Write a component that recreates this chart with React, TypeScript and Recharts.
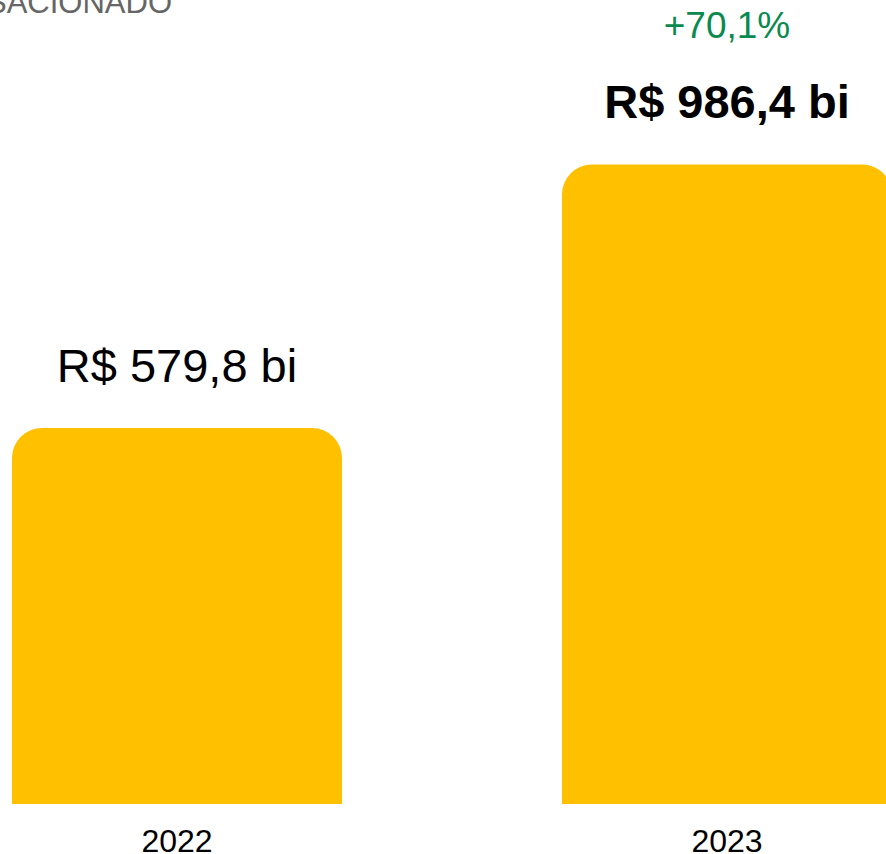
import React from "react";
import { BarChart, Bar, XAxis, YAxis, LabelList } from "recharts";

const years = ["2022", "2023"];
const values = [579.8, 986.4];
const valueLabels = ["R$ 579,8 bi", "R$ 986,4 bi"];
const changeLabels = ["", "+70,1%"];

const data = years.map((year, i) => ({
  year,
  value: values[i],
  label: valueLabels[i],
  change: changeLabels[i],
  bold: i === years.length - 1,
}));

const FONT = "Liberation Sans, Arial, sans-serif";

const ValueLabel = (props: any) => {
  const { x, y, width, index } = props;
  const d = data[index];
  const cx = x + width / 2;
  return (
    <g>
      {d.change ? (
        <text x={cx} y={y - 126} textAnchor="middle" fontSize={37} fill="#0B8A50" fontFamily={FONT}>
          {d.change}
        </text>
      ) : null}
      <text
        x={cx}
        y={y - 46}
        textAnchor="middle"
        fontSize={47}
        fontWeight={d.bold ? 700 : 400}
        fill="#000"
        fontFamily={FONT}
      >
        {d.label}
      </text>
    </g>
  );
};

const YearTick = (props: any) => {
  const { x, payload } = props;
  return (
    <text x={x} y={852} textAnchor="middle" fontSize={32} fill="#000" fontFamily={FONT}>
      {payload.value}
    </text>
  );
};

export default function App() {
  return (
    <div
      style={{
        position: "fixed",
        left: 0,
        top: 0,
        width: 886,
        height: 854,
        overflow: "hidden",
        background: "#fff",
      }}
    >
      <svg width={886} height={40} style={{ position: "absolute", left: 0, top: 0 }}>
        <text x={172} y={13} textAnchor="end" fontSize={31} fill="#666" fontFamily={FONT}>
          VALOR TRANSACIONADO
        </text>
      </svg>
      <div style={{ position: "absolute", left: -98, top: 0 }}>
        <BarChart
          width={1100}
          height={854}
          data={data}
          margin={{ top: 0, right: 0, bottom: 0, left: 0 }}
          barCategoryGap="20%"
        >
          <XAxis
            dataKey="year"
            axisLine={false}
            tickLine={false}
            height={50}
            tick={<YearTick />}
            interval={0}
          />
          <YAxis hide domain={[0, 1240]} />
          <Bar dataKey="value" fill="#FFC000" radius={[30, 30, 0, 0]} isAnimationActive={false}>
            <LabelList dataKey="value" content={<ValueLabel />} />
          </Bar>
        </BarChart>
      </div>
    </div>
  );
}
